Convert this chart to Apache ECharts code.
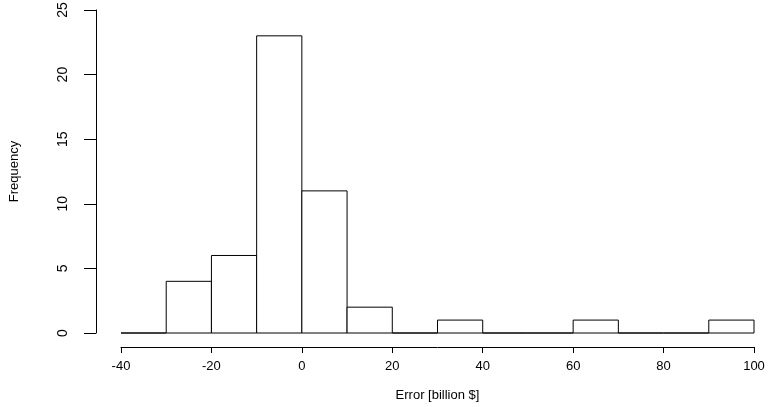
<!DOCTYPE html>
<html><head><meta charset="utf-8">
<script src="https://cdn.jsdelivr.net/npm/echarts@6/dist/echarts.min.js"></script>
<style>html,body{margin:0;padding:0;background:#fff}#c{width:774px;height:407px}</style>
</head><body><div id="c"></div>
<script>
const binStarts = [-40,-30,-20,-10,0,10,20,30,40,50,60,70,80,90];
const binWidth = 10;
const counts = [0,4,6,23,11,2,0,1,0,0,1,0,0,1];
const xTicks = [-40,-20,0,20,40,60,80,100];
const yTicks = [0,5,10,15,20,25];

const data = binStarts.map((s,i)=>[s, s+binWidth, counts[i]]);
const chart = echarts.init(document.getElementById('c'));
chart.setOption({
  animation:false,
  grid:{left:121,right:20,top:10,bottom:74,containLabel:false,outerBoundsMode:'none'},
  xAxis:{type:'value',min:-40,max:100,interval:20,offset:14,
    name:'Error [billion $]',nameLocation:'middle',nameGap:42,
    nameTextStyle:{fontFamily:'Liberation Sans, Arial',fontSize:13,color:'#000'},
    axisLine:{show:true,onZero:false,lineStyle:{color:'#000',width:1}},
    axisTick:{show:true,length:6,lineStyle:{color:'#000'}},
    axisLabel:{fontFamily:'Liberation Sans, Arial',fontSize:13,color:'#000',margin:13},
    splitLine:{show:false}},
  yAxis:{type:'value',min:0,max:25,interval:5,offset:25,
    name:'Frequency',nameLocation:'middle',nameGap:75,nameRotate:90,
    nameTextStyle:{fontFamily:'Liberation Sans Narrow, Liberation Sans, Arial',fontSize:13,color:'#000'},
    axisLine:{show:true,onZero:false,lineStyle:{color:'#000',width:1}},
    axisTick:{show:true,length:12,lineStyle:{color:'#000'}},
    axisLabel:{rotate:90,fontFamily:'Liberation Sans Narrow, Liberation Sans, Arial',fontSize:14,color:'#000',margin:26},
    splitLine:{show:false}},
  series:[{
    type:'custom',
    data:data,
    encode:{x:[0,1],y:2},
    renderItem:function(params,api){
      const p0 = api.coord([api.value(0),0]);
      const p1 = api.coord([api.value(1),api.value(2)]);
      return {type:'rect',
        shape:{x:p0[0],y:p1[1],width:p1[0]-p0[0],height:p0[1]-p1[1]},
        style:{fill:'#fff',stroke:'#000',lineWidth:1}};
    }
  }]
});
</script></body></html>
